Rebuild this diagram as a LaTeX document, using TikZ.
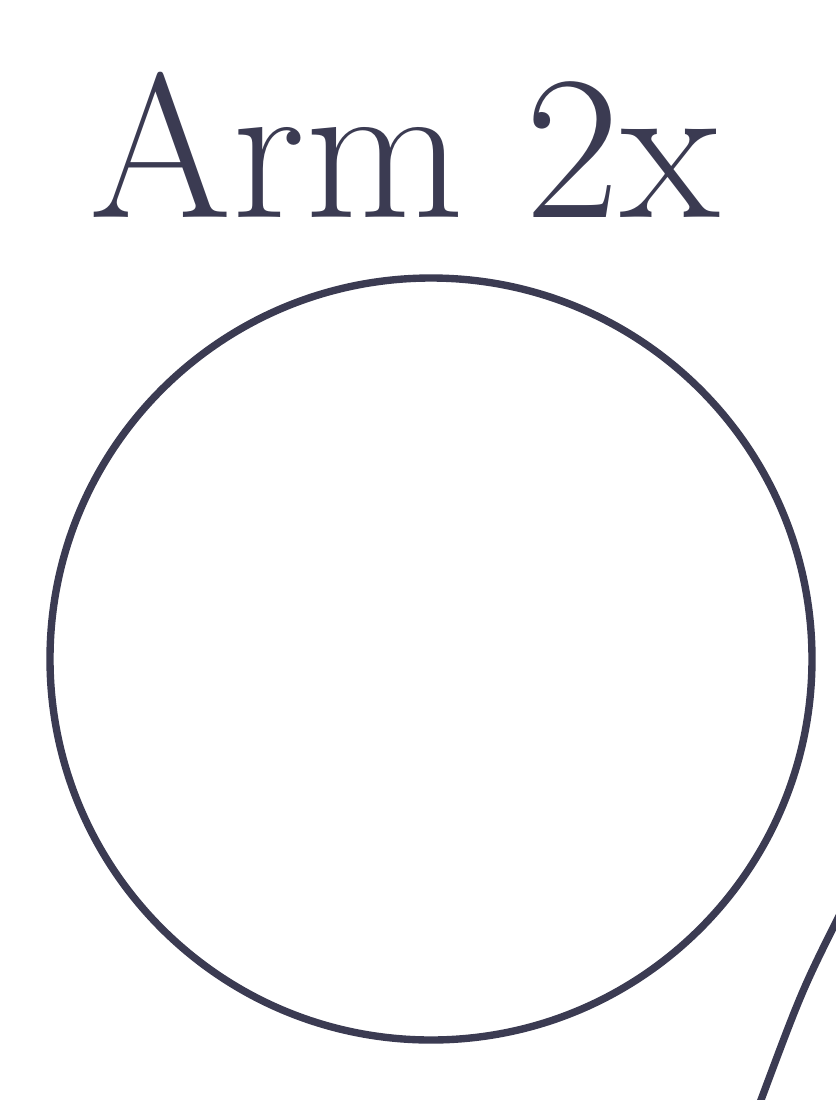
\documentclass[tikz,border=0pt]{standalone}
\usepackage{tikz}
\definecolor{inkNavy}{HTML}{3b3b52}

\begin{document}
\begin{tikzpicture}[
          x=0.02cm, y=-0.02cm,
          ink/.style={draw=inkNavy, line width=4.2pt, line cap=round},
          title/.style={text=inkNavy, font=\fontsize{117}{117}\selectfont, inner sep=0pt, anchor=base}
        ]
        \useasboundingbox (0,0) rectangle (836,1100);
        \node[title] (label) at (405,217) {Arm 2x};
        \node[ink, circle, minimum size=762*0.02cm, inner sep=0pt] (arm) at (431,659) {};
        \coordinate (stubTop) at (842,910);
        \coordinate (stubEnd) at (758,1108);
        \draw[ink] (stubTop) .. controls (802,990) .. (stubEnd);
      \end{tikzpicture}
\end{document}
